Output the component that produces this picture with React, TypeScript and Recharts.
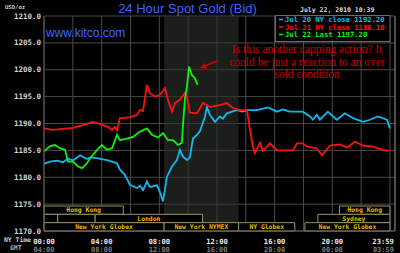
import React from "react";
import { LineChart, Line, XAxis, YAxis, CartesianGrid, ReferenceArea, ReferenceLine } from "recharts";

// ---------- data (hours after 00:00 NY time, price USD/oz) ----------
const jul20Hours = [0, 0.42, 0.9, 1.32, 1.66, 2.01, 2.5, 2.98, 3.19, 3.74, 4.37, 5.06, 5.27, 5.62, 5.96, 6.45, 6.66, 6.87, 7.14, 7.35, 7.84, 8.04, 8.25, 8.53, 8.88, 9.22, 9.43, 9.64, 9.92, 10.12, 10.33, 10.61, 10.82, 11.17, 11.3, 11.51, 11.86, 12.2, 12.41, 12.69, 13.04, 13.38, 13.8, 14.08, 14.77, 15.53, 16.16, 16.57, 17.06, 17.96, 18.45, 18.65, 18.93, 19.14, 19.69, 20.31, 20.87, 21.43, 22.12, 22.61, 23.16, 23.79, 24];
const jul20Prices = [1182.5, 1182.9, 1183.1, 1182.8, 1183.5, 1183.1, 1184.1, 1183.4, 1183.7, 1183.5, 1183.2, 1182.6, 1181.4, 1180.4, 1178.6, 1178.0, 1178.4, 1177.6, 1179.2, 1178.2, 1178.5, 1177.3, 1175.5, 1180.1, 1182.0, 1183.2, 1185.1, 1183.8, 1183.2, 1183.7, 1187.2, 1187.9, 1188.6, 1191.3, 1193.1, 1191.6, 1190.3, 1191.3, 1190.9, 1191.9, 1192.2, 1192.5, 1192.2, 1192.5, 1192.5, 1193.0, 1192.2, 1192.6, 1192.2, 1192.2, 1191.3, 1190.7, 1191.6, 1190.7, 1192.2, 1190.7, 1191.9, 1191.0, 1190.3, 1190.7, 1191.3, 1190.7, 1189.1];

const jul21Hours = [0, 0.62, 1.3, 2.0, 2.7, 3.4, 4.09, 4.44, 4.72, 4.92, 5.06, 5.27, 5.48, 6.0, 6.45, 6.66, 6.87, 7.14, 7.35, 7.7, 8.04, 8.39, 8.6, 8.88, 9.08, 9.43, 9.78, 9.92, 10.12, 10.61, 11.03, 11.51, 12.2, 12.69, 13.1, 13.59, 14.08, 14.29, 14.49, 14.63, 14.98, 15.19, 15.67, 16.16, 16.8, 17.27, 17.55, 17.96, 18.24, 18.93, 19.28, 19.83, 20.53, 21.01, 21.57, 22.12, 22.82, 23.51, 23.93];
const jul21Prices = [1189.1, 1188.8, 1189.0, 1189.2, 1189.7, 1190.3, 1189.7, 1189.4, 1188.8, 1189.4, 1188.7, 1191.0, 1191.0, 1191.2, 1191.6, 1192.5, 1192.3, 1197.2, 1195.6, 1195.0, 1195.3, 1196.6, 1194.4, 1192.2, 1193.8, 1194.4, 1195.7, 1194.8, 1192.0, 1191.9, 1193.8, 1193.1, 1193.4, 1193.8, 1192.9, 1192.5, 1192.5, 1188.8, 1185.7, 1184.5, 1186.4, 1184.9, 1186.3, 1185.0, 1185.0, 1185.0, 1186.3, 1186.3, 1185.7, 1185.4, 1184.1, 1185.9, 1186.1, 1185.5, 1186.6, 1185.9, 1185.7, 1185.1, 1184.9];

const jul22Hours = [0, 0.42, 0.76, 1.11, 1.46, 1.66, 2.01, 2.36, 2.64, 2.98, 3.19, 3.68, 4.02, 4.37, 4.72, 5.06, 5.27, 5.76, 6.17, 6.66, 7.14, 7.49, 7.91, 8.25, 8.6, 8.95, 9.29, 9.57, 9.64, 9.78, 9.92, 10.06, 10.26, 10.47, 10.65];
const jul22Prices = [1184.8, 1185.8, 1186.0, 1185.4, 1185.1, 1182.9, 1182.9, 1182.0, 1181.7, 1182.6, 1183.5, 1185.1, 1186.0, 1185.1, 1185.4, 1187.9, 1186.9, 1187.2, 1187.5, 1188.5, 1189.1, 1187.9, 1187.4, 1188.2, 1186.9, 1186.9, 1186.0, 1186.4, 1189.7, 1194.7, 1196.9, 1200.6, 1199.0, 1198.4, 1197.2];

const seriesLabels = ["Jul 20 NY close 1192.20", "Jul 21 NY close 1186.10", "Jul 22 Last 1197.20"];
const seriesColors = ["#10b8f0", "#ff1010", "#10f010"];

const gridHours = [0, 2, 4, 6, 8, 10, 12, 14, 16, 18, 20, 22, 24];
const nyTickLabels = ["00:00", "04:00", "08:00", "12:00", "16:00", "20:00", "23:59"];
const gmtTickLabels = ["04:00", "08:00", "12:00", "16:00", "20:00", "00:00", "03:59"];
const priceTicks = [1170, 1175, 1180, 1185, 1190, 1195, 1200, 1205, 1210];

const pitStart = 8.33;
const pitEnd = 13.5;

const sessionNames = ["Hong Kong", "Hong Kong", "", "", "London", "Sydney", "New York Globex", "New York NYMEX", "NY Globex", "New York Globex"];
const sessionStart = [0, 20.5, 0, 0.95, 3.55, 19.0, 0, 8.33, 13.5, 18.1];
const sessionEnd = [5.5, 24, 0.95, 3.55, 11.0, 24, 8.33, 13.5, 17.4, 24];
const sessionRow = [2, 2, 1, 1, 1, 1, 0, 0, 0, 0];

const titleText = "24 Hour Spot Gold (Bid)";
const dateText = "July 22, 2010 10:39";
const siteText = "www.kitco.com";
const unitText = "USD/oz";
const noteLines = ["Is this another capping action? It", "could be just a reaction to an over", "sold condition"];

// ---------- rendering ----------
const MONO = "'DejaVu Sans Mono', monospace";
const Y_MIN = 1170;
const Y_MAX = 1210;
const X_MAX = 24.35;
const ROW_H = 1.55;

const toPoints = (hs: number[], vs: number[]) => hs.map((h, i) => ({ h, v: vs[i] }));
const seriesData = [toPoints(jul20Hours, jul20Prices), toPoints(jul21Hours, jul21Prices), toPoints(jul22Hours, jul22Prices)];

const XTick = (props: any) => {
  const { x, y, payload } = props;
  const i = payload.value / 4;
  if (!Number.isInteger(i)) return <g />;
  const last = i === nyTickLabels.length - 1;
  const anchor = last ? "end" : "middle";
  const tx = last ? x + 4 : x;
  return (
    <g>
      <text x={tx} y={y + 10.5} textAnchor={anchor} fill="#e8e8e8" fontSize={7.2} fontFamily={MONO} fontWeight="bold">
        {nyTickLabels[i]}
      </text>
      <text x={tx} y={y + 18.8} textAnchor={anchor} fill="#7c7c7c" fontSize={7} fontFamily={MONO} fontWeight="bold">
        {gmtTickLabels[i]}
      </text>
    </g>
  );
};

const YTick = (props: any) => {
  const { x, y, payload } = props;
  return (
    <text x={x} y={y + 2.6} textAnchor="end" fill="#d4d4d4" fontSize={7.5} fontFamily={MONO} fontWeight="bold">
      {Number(payload.value).toFixed(1)}
    </text>
  );
};

export default function App() {
  return (
    <div style={{ position: "absolute", left: 0, top: 0, width: 400, height: 253, background: "#000", overflow: "hidden" }}>
      <LineChart width={400} height={253} margin={{ top: 16, right: 5, bottom: 0, left: 0 }}>
        <CartesianGrid stroke="#4a4a4a" strokeWidth={1} />
        <XAxis
          type="number"
          dataKey="h"
          domain={[0, X_MAX]}
          ticks={gridHours}
          interval={0}
          tick={<XTick />}
          tickLine={false}
          tickSize={0}
          axisLine={{ stroke: "#5a5a5a" }}
          height={22}
          allowDataOverflow
        />
        <YAxis
          type="number"
          domain={[Y_MIN, Y_MAX]}
          ticks={priceTicks}
          interval={0}
          tick={<YTick />}
          tickLine={false}
          tickSize={0}
          tickMargin={3}
          axisLine={{ stroke: "#5a5a5a" }}
          width={44}
          allowDataOverflow
        />
        <ReferenceArea x1={pitStart} x2={pitEnd} y1={Y_MIN} y2={Y_MAX} fill="#2e322e" fillOpacity={0.6} stroke="none" />
        <ReferenceLine x={X_MAX} stroke="#7a7a7a" />
        {sessionNames.map((name, i) => (
          <ReferenceArea
            key={"s" + i}
            x1={sessionStart[i]}
            x2={sessionEnd[i]}
            y1={Y_MIN + sessionRow[i] * ROW_H}
            y2={Y_MIN + (sessionRow[i] + 1) * ROW_H}
            fill="#000"
            fillOpacity={1}
            stroke="#9a9262"
            strokeWidth={1}
            label={
              name
                ? { value: name, position: "center", fill: "#e8b800", fontSize: 6.4, fontFamily: MONO, fontWeight: "bold" }
                : undefined
            }
          />
        ))}
        {seriesData.map((d, i) => (
          <Line
            key={"l" + i}
            data={d}
            dataKey="v"
            type="linear"
            stroke={seriesColors[i]}
            strokeWidth={1.8}
            dot={false}
            activeDot={false}
            isAnimationActive={false}
          />
        ))}
      </LineChart>
      <svg width={400} height={253} style={{ position: "absolute", left: 0, top: 0, pointerEvents: "none" }}>
        <text x={5} y={8.5} fill="#cfcfcf" fontSize={5.6} fontFamily={MONO} fontWeight="bold">{unitText}</text>
        <text x={187.5} y={13} textAnchor="middle" fill="#3d64ff" fontSize={13} fontFamily="'Liberation Sans', Arial, sans-serif">{titleText}</text>
        <text x={300} y={12} fill="#dcdcdc" fontSize={6.5} fontFamily={MONO} fontWeight="bold">{dateText}</text>
        <text x={46} y={36.5} fill="#3f66ff" fontSize={12} fontFamily="'Liberation Sans', Arial, sans-serif">{siteText}</text>
        <rect x={275.5} y={15.5} width={114.5} height={26} fill="#000" stroke="#6a6a6a" />
        {seriesLabels.map((s, i) => (
          <g key={"lg" + i}>
            <line x1={279} x2={283} y1={19.5 + i * 7.5} y2={19.5 + i * 7.5} stroke={seriesColors[i]} strokeWidth={1.5} />
            <text x={285} y={22 + i * 7.5} fill={seriesColors[i]} fontSize={7.2} fontFamily={MONO} fontWeight="bold">{s}</text>
          </g>
        ))}
        {noteLines.map((s, i) => (
          <text key={"n" + i} x={307} y={53 + i * 12.6} textAnchor="middle" fill="#c80000" fontSize={11.5} fontFamily="'Liberation Serif', 'Times New Roman', serif">{s}</text>
        ))}
        <line x1={217} y1={61} x2={205} y2={66} stroke="#d00000" strokeWidth={1.8} />
        <polygon points="200,68 204,63 207,69" fill="#d00000" />
        <text x={4} y={241.5} fill="#d0d0d0" fontSize={6.4} fontFamily={MONO} fontWeight="bold">NY Time</text>
        <text x={10} y={249.8} fill="#b0b0b0" fontSize={6.4} fontFamily={MONO} fontWeight="bold">GMT</text>
      </svg>
    </div>
  );
}
